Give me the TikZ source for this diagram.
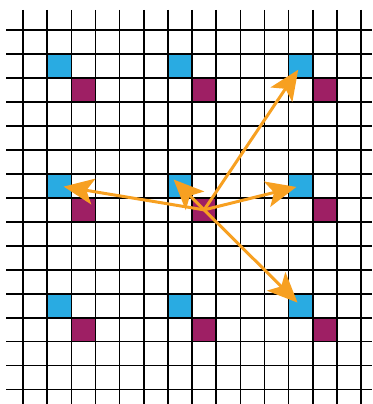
\documentclass[tikz,border=0pt]{standalone}
\usepackage{xcolor}
\usepackage{tikz}
\usetikzlibrary{arrows.meta,calc}
\definecolor{cellblue}{HTML}{29ABE2}
\definecolor{cellpurple}{HTML}{9E1F64}
\definecolor{orng}{HTML}{F7A021}
\tikzset{
  cellb/.style={rectangle,draw=none,fill=cellblue,minimum width=24.15pt,
    minimum height=23.98pt,inner sep=0pt},
  cellp/.style={rectangle,draw=none,fill=cellpurple,minimum width=24.15pt,
    minimum height=23.98pt,inner sep=0pt},
  gridln/.style={line width=1.5pt,draw=black},
  ar/.style={-{Stealth[length=30pt,width=26pt,inset=7pt]},line width=3pt,
    draw=orng,shorten >=4.5pt},
}
\begin{document}
\begin{tikzpicture}[x=1pt,y=-1pt]
  \useasboundingbox (0,0) rectangle (372,404);
  % coloured cells, every 5th column and row
  \foreach \c in {1,6,11} {
    \foreach \r in {1,6,11} {
      \node[cellb] (b\c-\r) at ({23+24.15*(\c+0.5)},{30+23.98*(\r+0.5)}) {};
      \node[cellp] (p\c-\r) at ({23+24.15*(\c+1.5)},{30+23.98*(\r+1.5)}) {};
    }
  }
  % grid
  \foreach \i in {0,...,14} {
    \draw[gridln] ({23+24.15*\i},10) -- ({23+24.15*\i},404);
  }
  \foreach \j in {0,...,15} {
    \draw[gridln] (6,{30+23.98*\j}) -- (372,{30+23.98*\j});
  }
  % arrows from the middle cell
  \draw[ar] (p6-6.center) -- (b11-1.center);
  \draw[ar] (p6-6.center) -- (b11-6.center);
  \draw[ar] (p6-6.center) -- (b11-11.center);
  \draw[ar] (p6-6.center) -- (b1-6.center);
  \draw[ar,shorten >=-9pt] (p6-6.center) -- (b6-6.center);
\end{tikzpicture}
\end{document}
